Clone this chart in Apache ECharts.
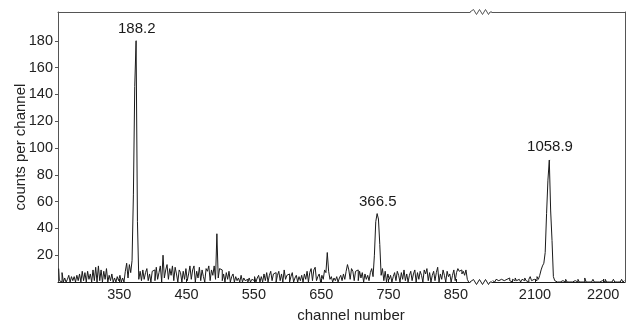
<!DOCTYPE html>
<html>
<head>
<meta charset="utf-8">
<script src="https://cdn.jsdelivr.net/npm/echarts@6/dist/echarts.min.js"></script>
<style>
html, body { margin: 0; padding: 0; background: #fff; }
#spectrum { width: 634px; height: 325px; }
</style>
</head>
<body>
<div id="spectrum"></div>
<script>
// counts per channel, one value every 2 channels
var chanStep = 2;
var lowStart = 260;   // first channel of the left part (260..870)
var lowCounts = [
    10, 1, 0, 7, 0, 3, 0, 2, 5, 0, 4,
    1, 4, 0, 5, 1, 6, 0, 8, 1, 7,
    0, 8, 2, 6, 0, 9, 1, 11, 0, 12,
    1, 9, 0, 8, 2, 10, 0, 5, 1, 6,
    0, 3, 0, 4, 1, 5, 0, 3, 0, 8,
    14, 3, 13, 7, 16, 65, 146, 180, 45, 2,
    8, 1, 9, 2, 7, 10, 1, 6, 0, 8,
    9, 1, 11, 2, 7, 12, 0, 20, 3, 9,
    13, 2, 10, 5, 12, 1, 11, 6, 0, 9,
    7, 0, 8, 2, 10, 1, 6, 12, 2, 9,
    12, 0, 8, 3, 11, 1, 9, 4, 0, 10,
    8, 12, 1, 9, 5, 12, 2, 36, 3, 10,
    9, 1, 6, 0, 7, 2, 8, 0, 4, 6,
    0, 4, 1, 3, 0, 5, 0, 3, 1, 2,
    0, 3, 0, 2, 1, 4, 0, 3, 5, 0,
    4, 0, 6, 1, 7, 0, 5, 8, 1, 6,
    7, 0, 5, 8, 1, 6, 0, 9, 2, 5,
    6, 0, 4, 7, 0, 3, 5, 0, 4, 1,
    5, 0, 6, 2, 8, 0, 7, 10, 1, 9,
    11, 1, 4, 6, 0, 5, 2, 9, 7, 22,
    8, 2, 4, 0, 3, 1, 4, 0, 3, 5,
    1, 6, 2, 8, 13, 9, 2, 10, 8, 1,
    8, 9, 1, 8, 3, 7, 0, 6, 2, 5,
    1, 7, 10, 4, 20, 45, 51, 47, 28, 5,
    10, 1, 8, 0, 6, 2, 5, 0, 4, 7,
    1, 8, 5, 0, 7, 2, 9, 1, 6, 0,
    5, 8, 1, 6, 9, 0, 7, 2, 8, 5,
    0, 9, 6, 10, 1, 7, 0, 5, 8, 1,
    7, 11, 0, 6, 2, 9, 5, 0, 8, 4,
    6, 0, 5, 9, 1, 7, 10, 8, 9, 6,
    8, 5, 9, 2, 0
];
var highStart = 2038; // first channel of the right part (2038..2232)
var highCounts = [
    1, 0, 1, 2, 1, 0, 2, 1, 1, 0,
    2, 1, 3, 1, 0, 2, 1, 3, 1, 2,
    1, 0, 2, 1, 3, 1, 0, 2, 4, 1,
    2, 3, 1, 4, 2, 5, 9, 12, 14, 22,
    51, 76, 91, 53, 31, 4, 1, 0, 1, 0,
    0, 1, 0, 0, 2, 0, 0, 1, 0, 0,
    1, 0, 0, 2, 0, 0, 1, 0, 3, 0,
    0, 1, 0, 0, 2, 0, 0, 1, 0, 0,
    1, 0, 0, 2, 0, 0, 1, 0, 0, 2,
    0, 0, 1, 0, 0, 2, 0, 1
];

var lowTicks = [350, 450, 550, 650, 750, 850];
var highTicks = [2100, 2200];
var countTicks = [20, 40, 60, 80, 100, 120, 140, 160, 180];

// peak annotations
var peakChannels = [376, 734, 2122];
var peakCounts = [180, 51, 91];
var peakLabels = ['188.2', '366.5', '1058.9'];

var FONT = "'Liberation Sans', Arial, Helvetica, sans-serif";
var FRAME = '#555';
var INK = '#1a1a1a';

var gridTop = 12, gridHeight = 270;
var leftA = 58, widthA = 412;
var leftB = 492, widthB = 133;

function toPairs(start, counts) {
    return counts.map(function (v, i) { return [start + i * chanStep, v]; });
}

function peakData(inHigh) {
    var out = [];
    for (var i = 0; i < peakChannels.length; i++) {
        if ((peakChannels[i] > 1000) === inHigh) {
            out.push({ name: peakLabels[i], value: [peakChannels[i], peakCounts[i]] });
        }
    }
    return out;
}

function zigzag(x0, x1, y) {
    var pts = [[x0, y]];
    var n = 6, span = (x1 - x0 - 4) / n;
    for (var i = 1; i <= n; i++) {
        pts.push([x0 + 2 + i * span - span / 2, y + (i % 2 ? -2.5 : 2.5)]);
    }
    pts.push([x1 - 2, y], [x1, y]);
    return pts;
}

var frameOnly = {
    axisLine: { show: true, lineStyle: { color: FRAME, width: 1 } },
    axisTick: { show: false },
    axisLabel: { show: false },
    splitLine: { show: false }
};

var tickLabel = { fontFamily: FONT, fontSize: 14.5, color: '#222' };
var plainNumber = function (v) { return String(v); };

var myChart = echarts.init(document.getElementById('spectrum'));

var option = {
    animation: false,
    backgroundColor: '#fff',
    grid: [
        { left: leftA, top: gridTop, width: widthA, height: gridHeight, outerBoundsMode: 'none', containLabel: false },
        { left: leftB, top: gridTop, width: widthB, height: gridHeight, outerBoundsMode: 'none', containLabel: false }
    ],
    xAxis: [
        {
            type: 'value', gridIndex: 0, position: 'bottom', min: 259, max: 871,
            axisLine: { lineStyle: { color: INK, width: 1 } },
            axisTick: { show: true, inside: true, length: 3, customValues: lowTicks, lineStyle: { color: INK } },
            axisLabel: Object.assign({ margin: 5, customValues: lowTicks, formatter: plainNumber }, tickLabel),
            splitLine: { show: false }
        },
        {
            type: 'value', gridIndex: 1, position: 'bottom', min: 2037, max: 2232,
            axisLine: { lineStyle: { color: INK, width: 1 } },
            axisTick: { show: true, inside: true, length: 3, customValues: highTicks, lineStyle: { color: INK } },
            axisLabel: Object.assign({ margin: 5, customValues: highTicks, formatter: plainNumber }, tickLabel),
            splitLine: { show: false }
        },
        Object.assign({ type: 'value', gridIndex: 0, position: 'top', min: 259, max: 871 }, frameOnly),
        Object.assign({ type: 'value', gridIndex: 1, position: 'top', min: 2037, max: 2232 }, frameOnly)
    ],
    yAxis: [
        {
            type: 'value', gridIndex: 0, position: 'left', min: 0, max: 201.5,
            name: 'counts per channel', nameLocation: 'middle', nameGap: 30, nameMoveOverlap: false,
            nameTextStyle: { fontFamily: FONT, fontSize: 15, color: '#222' },
            axisLine: { show: true, lineStyle: { color: FRAME, width: 1 } },
            axisTick: { show: true, length: 3, customValues: countTicks, lineStyle: { color: FRAME } },
            axisLabel: Object.assign({ margin: 5, customValues: countTicks, formatter: plainNumber }, tickLabel),
            splitLine: { show: false }
        },
        Object.assign({ type: 'value', gridIndex: 1, position: 'right', min: 0, max: 201.5 }, frameOnly)
    ],
    series: [
        {
            type: 'line', xAxisIndex: 0, yAxisIndex: 0, step: 'middle',
            showSymbol: false, lineStyle: { color: INK, width: 1 },
            data: toPairs(lowStart, lowCounts)
        },
        {
            type: 'line', xAxisIndex: 1, yAxisIndex: 1, step: 'middle',
            showSymbol: false, lineStyle: { color: INK, width: 1 },
            data: toPairs(highStart, highCounts)
        },
        {
            type: 'scatter', xAxisIndex: 0, yAxisIndex: 0, symbolSize: 0.5,
            itemStyle: { color: INK, opacity: 1 },
            label: { show: true, position: 'top', distance: 4, formatter: '{b}',
                     fontFamily: FONT, fontSize: 15, color: '#1a1a1a' },
            data: peakData(false)
        },
        {
            type: 'scatter', xAxisIndex: 1, yAxisIndex: 1, symbolSize: 0.5,
            itemStyle: { color: INK, opacity: 1 },
            label: { show: true, position: 'top', distance: 5, formatter: '{b}',
                     fontFamily: FONT, fontSize: 15, color: '#1a1a1a' },
            data: peakData(true)
        }
    ],
    graphic: [
        { type: 'polyline', shape: { points: zigzag(leftA + widthA, leftB, gridTop) },
          style: { stroke: FRAME, lineWidth: 1, fill: null }, silent: true },
        { type: 'polyline', shape: { points: zigzag(leftA + widthA, leftB, gridTop + gridHeight) },
          style: { stroke: INK, lineWidth: 1, fill: null }, silent: true },
        { type: 'text', x: 351, y: 316, silent: true,
          style: { text: 'channel number', fontFamily: FONT, fontSize: 15, fill: '#222',
                   align: 'center', verticalAlign: 'middle' } }
    ]
};

myChart.setOption(option);
</script>
</body>
</html>
